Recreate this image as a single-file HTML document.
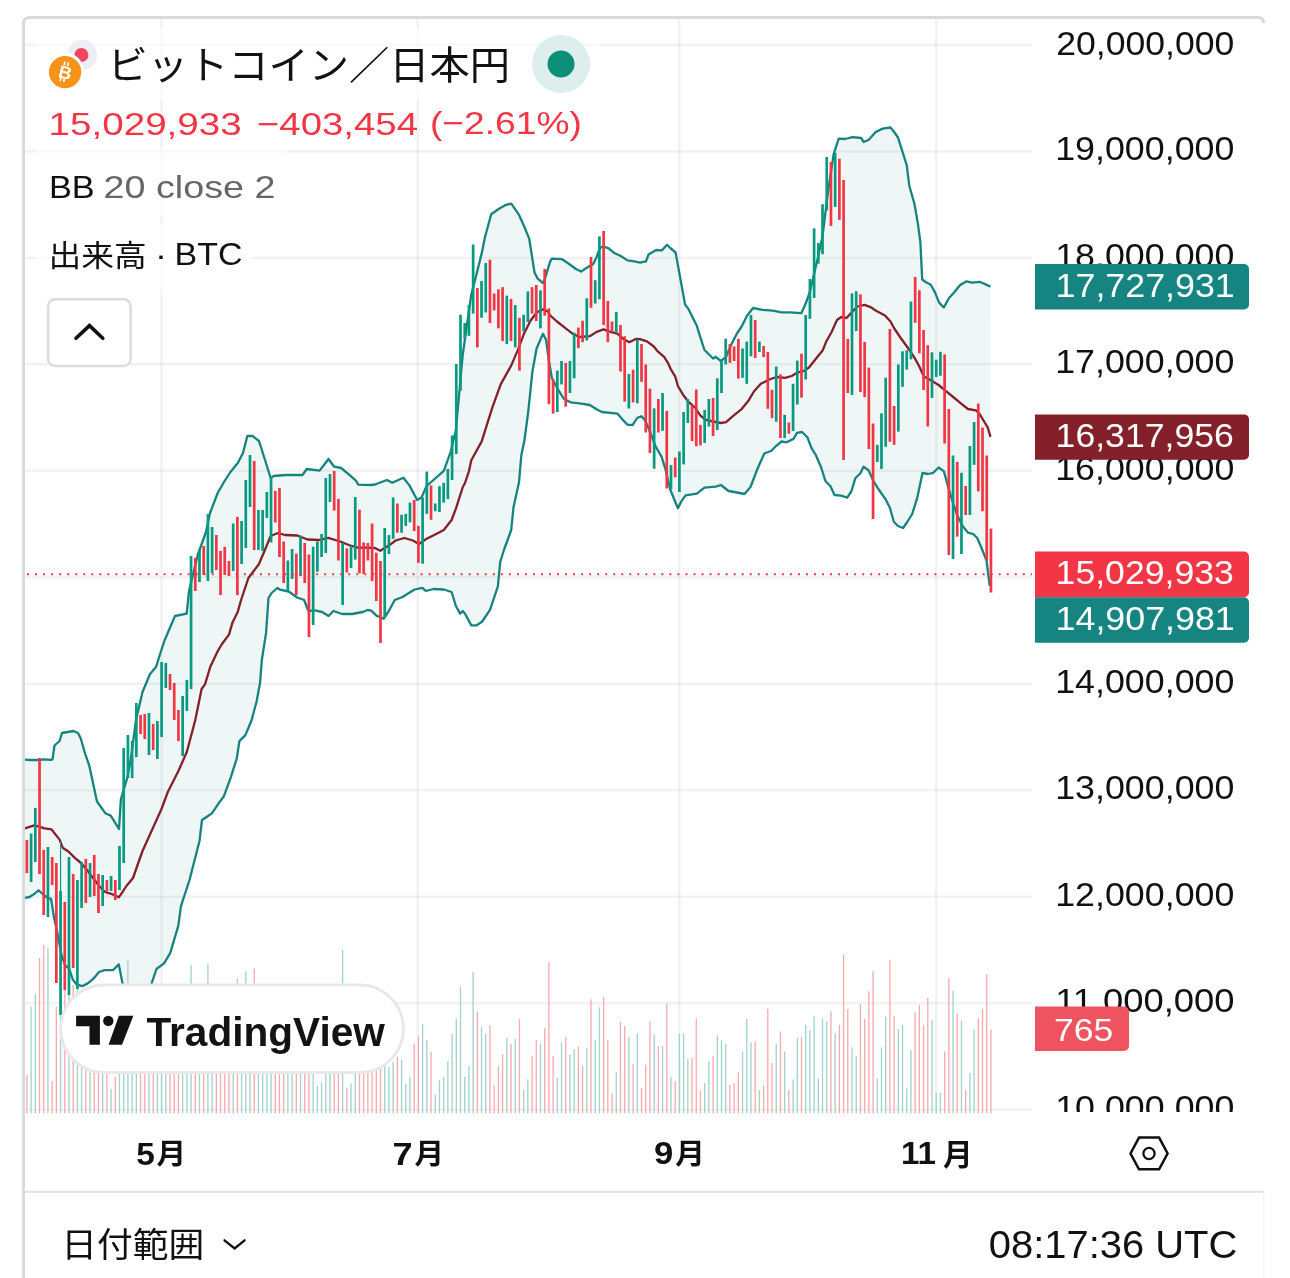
<!DOCTYPE html>
<html><head><meta charset="utf-8"><style>
html,body{margin:0;padding:0;background:#fff;}
body{width:1290px;height:1278px;overflow:hidden;position:relative;font-family:"Liberation Sans", "Noto Sans CJK JP", sans-serif;color:#131722;}
svg{position:absolute;left:0;top:0;will-change:transform;}
</style></head><body>
<svg width="1290" height="1278" viewBox="0 0 1290 1278">
<defs><clipPath id="pane"><rect x="25" y="19" width="1007" height="1094.5"/></clipPath>
<clipPath id="axisclip"><rect x="1032" y="19" width="232" height="1093"/></clipPath></defs>
<!-- container border -->
<path d="M23.5 1278 V24 Q23.5 17.5 30 17.5 H1258 Q1263.5 17.5 1263.5 23" fill="none" stroke="#d9dadb" stroke-width="3"/>
<g stroke="#000" stroke-opacity="0.05" stroke-width="2.6" fill="none">
<line x1="25" y1="44.90" x2="1032" y2="44.90"/>
<line x1="25" y1="151.38" x2="1032" y2="151.38"/>
<line x1="25" y1="257.85" x2="1032" y2="257.85"/>
<line x1="25" y1="364.32" x2="1032" y2="364.32"/>
<line x1="25" y1="470.80" x2="1032" y2="470.80"/>
<line x1="25" y1="577.27" x2="1032" y2="577.27"/>
<line x1="25" y1="683.75" x2="1032" y2="683.75"/>
<line x1="25" y1="790.23" x2="1032" y2="790.23"/>
<line x1="25" y1="896.70" x2="1032" y2="896.70"/>
<line x1="25" y1="1003.17" x2="1032" y2="1003.17"/>
<line x1="25" y1="1109.65" x2="1032" y2="1109.65"/>
<line x1="161.6" y1="19" x2="161.6" y2="1113.5"/>
<line x1="417.75" y1="19" x2="417.75" y2="1113.5"/>
<line x1="679.3" y1="19" x2="679.3" y2="1113.5"/>
<line x1="936.2" y1="19" x2="936.2" y2="1113.5"/>
</g>
<g clip-path="url(#pane)">
<polygon points="22.0,759.5 30.0,760.0 37.6,760.0 44.4,759.3 50.8,759.8 52.5,759.3 54.5,745.5 59.6,741.0 62.0,733.0 73.3,731.0 78.0,733.0 80.8,738.5 84.6,752.0 89.3,765.8 93.1,783.5 97.0,801.5 105.3,813.2 110.7,815.6 119.0,828.9 120.9,799.0 124.4,787.4 127.2,778.0 130.7,760.0 136.0,720.0 142.5,692.0 150.0,674.0 156.0,667.0 160.4,653.0 164.7,640.0 175.0,616.0 186.7,613.6 189.0,591.0 197.7,555.0 206.0,532.0 210.0,513.0 217.7,493.0 224.0,482.0 230.4,472.0 237.8,463.0 243.0,453.0 247.3,436.0 252.6,436.0 259.0,441.0 266.3,464.0 270.6,478.0 273.7,476.0 285.0,475.0 290.3,475.0 302.4,475.0 306.7,469.0 319.6,470.6 328.5,459.0 334.2,466.7 341.1,468.0 348.8,474.4 355.7,480.4 358.3,484.7 371.2,485.0 375.0,484.5 387.0,480.0 392.2,482.8 403.4,477.7 409.4,485.4 417.2,500.0 421.5,497.5 426.6,486.0 433.5,480.0 443.8,470.8 450.7,451.8 455.9,430.0 462.7,355.0 471.1,295.6 481.7,253.4 484.9,237.5 491.2,214.3 498.6,209.0 506.0,204.8 511.3,203.7 518.7,214.3 524.0,226.0 529.2,238.6 534.5,272.4 537.7,278.7 543.0,283.0 545.0,278.5 550.0,261.8 551.9,258.7 562.2,259.2 569.1,264.0 576.0,269.0 581.1,271.6 586.3,268.0 593.2,264.0 596.6,257.0 600.1,247.5 604.4,246.7 608.7,248.4 613.8,252.7 620.7,256.0 627.6,260.4 634.5,261.3 640.0,262.7 646.0,261.3 648.5,254.6 656.2,250.0 661.8,250.4 667.1,244.8 670.3,248.0 675.6,252.5 685.1,304.6 688.2,308.6 696.8,325.8 701.1,339.6 704.5,350.0 708.8,354.2 713.1,358.5 715.7,356.8 720.9,361.0 726.1,356.8 731.2,344.7 736.4,334.4 741.9,326.0 747.0,315.8 753.1,308.0 762.5,309.8 772.9,310.7 781.5,312.4 790.0,312.4 801.3,313.2 805.6,303.8 809.9,291.7 815.5,268.0 822.4,237.0 827.5,195.7 833.6,154.4 838.7,138.6 844.8,139.0 852.5,137.2 861.1,138.0 863.7,142.0 868.8,139.8 875.7,132.0 882.6,128.6 890.4,127.5 893.8,131.5 898.0,137.5 901.5,148.7 906.7,165.0 909.3,185.7 914.4,203.8 917.9,223.6 920.4,242.5 922.2,279.5 925.6,282.0 930.8,284.7 935.0,292.4 939.1,302.6 943.8,307.5 949.0,298.0 954.3,292.2 959.9,285.3 966.5,281.3 971.9,282.6 979.8,281.8 990.5,286.6 989.7,585.8 986.5,560.5 981.2,547.2 977.2,538.0 973.2,534.0 967.9,532.6 962.6,526.0 957.2,515.3 951.9,499.4 947.9,486.0 943.9,471.4 938.6,467.5 933.3,472.8 928.0,474.0 922.5,473.0 917.3,497.6 912.2,514.0 907.2,522.0 903.1,528.0 898.0,526.0 893.9,522.0 889.9,507.8 885.8,499.7 878.7,489.5 873.6,481.4 868.5,470.2 863.5,466.7 860.4,473.3 855.3,478.3 851.3,491.5 847.2,497.6 841.1,495.6 834.5,495.0 830.5,486.2 825.4,481.0 821.1,467.3 815.9,455.2 811.6,448.3 807.3,437.2 802.1,432.0 797.0,432.9 793.5,438.9 786.6,442.3 781.5,441.5 776.3,445.8 771.1,451.0 764.3,453.5 757.4,469.0 750.5,487.0 744.5,494.0 737.0,492.5 728.6,491.0 720.9,485.0 715.7,486.7 704.5,487.6 696.8,493.6 685.6,495.4 681.3,501.4 677.9,508.3 674.4,499.7 670.1,489.3 665.8,470.4 661.5,456.6 655.5,446.3 650.3,432.5 645.2,420.5 641.4,416.2 637.1,418.0 632.8,424.8 627.6,424.8 622.5,419.6 617.3,413.6 601.8,412.0 596.6,409.3 589.8,405.0 579.4,403.3 570.8,402.4 563.9,399.0 557.0,387.8 551.9,378.3 548.4,357.7 546.1,340.0 543.0,333.7 536.6,348.5 532.4,371.7 528.2,412.0 524.5,440.0 521.3,455.6 519.0,482.3 513.5,507.3 511.2,530.0 504.1,549.5 500.2,562.0 497.9,586.3 490.0,609.8 482.2,621.5 476.7,625.4 471.3,625.4 465.0,613.7 462.8,611.0 460.2,613.6 455.9,606.0 451.6,592.0 443.8,589.5 433.5,589.0 425.8,591.0 422.3,587.8 414.6,589.5 402.5,597.0 394.8,600.0 388.8,611.0 383.6,618.8 376.4,615.6 371.2,610.7 367.8,610.0 362.6,612.0 352.3,614.0 342.0,614.0 333.4,611.0 328.5,616.0 322.2,612.0 314.4,610.4 308.4,611.0 304.1,600.0 297.2,597.5 288.6,591.5 280.0,589.7 277.3,588.0 271.6,593.0 268.5,598.0 266.1,632.7 261.8,660.2 260.1,682.6 256.6,701.5 251.5,720.5 245.4,735.1 239.4,741.1 236.8,758.3 230.8,777.3 223.9,796.2 218.8,803.1 211.9,813.4 208.0,816.0 202.0,820.0 199.5,841.0 189.5,880.0 180.9,906.4 178.3,925.8 170.2,953.2 164.0,963.4 156.5,969.0 151.9,982.7 148.0,993.0 143.0,1003.0 137.0,1006.0 131.0,1003.0 126.0,995.0 122.4,982.7 118.8,964.4 113.2,970.0 104.7,970.2 99.0,972.0 93.4,978.7 87.8,983.4 82.2,986.2 76.5,984.3 72.8,979.6 69.0,968.3 65.2,965.5 61.5,955.2 57.7,934.5 54.0,917.6 51.0,898.8 47.4,897.9 42.7,894.0 38.5,890.3 34.2,894.0 29.5,897.0 24.8,897.9 22.0,898.5" fill="#16837f" fill-opacity="0.065"/>
<rect x="26.24" y="1075.0" width="1.3" height="38.5" fill="#f7a9ae"/>
<rect x="30.45" y="1006.7" width="1.3" height="106.8" fill="#9fd3cb"/>
<rect x="34.66" y="993.6" width="1.3" height="119.9" fill="#9fd3cb"/>
<rect x="38.87" y="958.0" width="1.3" height="155.5" fill="#f7a9ae"/>
<rect x="43.08" y="944.7" width="1.3" height="168.8" fill="#f7a9ae"/>
<rect x="47.29" y="947.8" width="1.3" height="165.7" fill="#9fd3cb"/>
<rect x="51.50" y="1081.0" width="1.3" height="32.5" fill="#f7a9ae"/>
<rect x="55.70" y="1006.7" width="1.3" height="106.8" fill="#f7a9ae"/>
<rect x="59.91" y="985.0" width="1.3" height="128.5" fill="#9fd3cb"/>
<rect x="64.12" y="990.0" width="1.3" height="123.5" fill="#f7a9ae"/>
<rect x="68.33" y="980.0" width="1.3" height="133.5" fill="#9fd3cb"/>
<rect x="72.54" y="985.0" width="1.3" height="128.5" fill="#f7a9ae"/>
<rect x="76.75" y="967.0" width="1.3" height="146.5" fill="#9fd3cb"/>
<rect x="80.96" y="1000.0" width="1.3" height="113.5" fill="#9fd3cb"/>
<rect x="85.17" y="1000.0" width="1.3" height="113.5" fill="#f7a9ae"/>
<rect x="89.38" y="1000.0" width="1.3" height="113.5" fill="#9fd3cb"/>
<rect x="93.59" y="1000.0" width="1.3" height="113.5" fill="#f7a9ae"/>
<rect x="97.80" y="1000.0" width="1.3" height="113.5" fill="#f7a9ae"/>
<rect x="102.01" y="1000.0" width="1.3" height="113.5" fill="#9fd3cb"/>
<rect x="106.22" y="1000.0" width="1.3" height="113.5" fill="#f7a9ae"/>
<rect x="110.43" y="1089.3" width="1.3" height="24.2" fill="#9fd3cb"/>
<rect x="114.64" y="1076.5" width="1.3" height="37.0" fill="#f7a9ae"/>
<rect x="118.85" y="1000.0" width="1.3" height="113.5" fill="#9fd3cb"/>
<rect x="123.06" y="1000.0" width="1.3" height="113.5" fill="#9fd3cb"/>
<rect x="127.27" y="960.2" width="1.3" height="153.3" fill="#9fd3cb"/>
<rect x="131.48" y="1000.0" width="1.3" height="113.5" fill="#9fd3cb"/>
<rect x="135.69" y="1000.0" width="1.3" height="113.5" fill="#9fd3cb"/>
<rect x="139.90" y="1000.0" width="1.3" height="113.5" fill="#f7a9ae"/>
<rect x="144.11" y="1000.0" width="1.3" height="113.5" fill="#f7a9ae"/>
<rect x="148.32" y="1000.0" width="1.3" height="113.5" fill="#9fd3cb"/>
<rect x="152.53" y="1000.0" width="1.3" height="113.5" fill="#f7a9ae"/>
<rect x="156.74" y="1000.0" width="1.3" height="113.5" fill="#9fd3cb"/>
<rect x="160.95" y="1000.0" width="1.3" height="113.5" fill="#9fd3cb"/>
<rect x="165.16" y="1000.0" width="1.3" height="113.5" fill="#9fd3cb"/>
<rect x="169.37" y="1000.0" width="1.3" height="113.5" fill="#f7a9ae"/>
<rect x="173.58" y="1000.0" width="1.3" height="113.5" fill="#f7a9ae"/>
<rect x="177.79" y="1000.0" width="1.3" height="113.5" fill="#f7a9ae"/>
<rect x="182.00" y="1000.0" width="1.3" height="113.5" fill="#9fd3cb"/>
<rect x="186.21" y="1000.0" width="1.3" height="113.5" fill="#9fd3cb"/>
<rect x="190.42" y="964.9" width="1.3" height="148.6" fill="#9fd3cb"/>
<rect x="194.63" y="1000.0" width="1.3" height="113.5" fill="#f7a9ae"/>
<rect x="198.84" y="1000.0" width="1.3" height="113.5" fill="#9fd3cb"/>
<rect x="203.05" y="1000.0" width="1.3" height="113.5" fill="#f7a9ae"/>
<rect x="207.26" y="963.7" width="1.3" height="149.8" fill="#9fd3cb"/>
<rect x="211.47" y="1000.0" width="1.3" height="113.5" fill="#9fd3cb"/>
<rect x="215.68" y="1000.0" width="1.3" height="113.5" fill="#f7a9ae"/>
<rect x="219.89" y="1000.0" width="1.3" height="113.5" fill="#f7a9ae"/>
<rect x="224.10" y="1000.0" width="1.3" height="113.5" fill="#f7a9ae"/>
<rect x="228.31" y="1000.0" width="1.3" height="113.5" fill="#f7a9ae"/>
<rect x="232.52" y="1000.0" width="1.3" height="113.5" fill="#9fd3cb"/>
<rect x="236.73" y="978.4" width="1.3" height="135.1" fill="#f7a9ae"/>
<rect x="240.94" y="1000.0" width="1.3" height="113.5" fill="#9fd3cb"/>
<rect x="245.15" y="971.2" width="1.3" height="142.3" fill="#9fd3cb"/>
<rect x="249.36" y="1000.0" width="1.3" height="113.5" fill="#9fd3cb"/>
<rect x="253.57" y="968.4" width="1.3" height="145.1" fill="#f7a9ae"/>
<rect x="257.78" y="1000.0" width="1.3" height="113.5" fill="#9fd3cb"/>
<rect x="261.99" y="1000.0" width="1.3" height="113.5" fill="#9fd3cb"/>
<rect x="266.20" y="1000.0" width="1.3" height="113.5" fill="#9fd3cb"/>
<rect x="270.40" y="1000.0" width="1.3" height="113.5" fill="#9fd3cb"/>
<rect x="274.61" y="1000.0" width="1.3" height="113.5" fill="#f7a9ae"/>
<rect x="278.82" y="1000.0" width="1.3" height="113.5" fill="#f7a9ae"/>
<rect x="283.03" y="1000.0" width="1.3" height="113.5" fill="#f7a9ae"/>
<rect x="287.24" y="1000.0" width="1.3" height="113.5" fill="#9fd3cb"/>
<rect x="291.45" y="1000.0" width="1.3" height="113.5" fill="#9fd3cb"/>
<rect x="295.66" y="1000.0" width="1.3" height="113.5" fill="#f7a9ae"/>
<rect x="299.87" y="1000.0" width="1.3" height="113.5" fill="#9fd3cb"/>
<rect x="304.08" y="1000.0" width="1.3" height="113.5" fill="#f7a9ae"/>
<rect x="308.29" y="1000.0" width="1.3" height="113.5" fill="#f7a9ae"/>
<rect x="312.50" y="1000.0" width="1.3" height="113.5" fill="#9fd3cb"/>
<rect x="316.71" y="1085.8" width="1.3" height="27.7" fill="#9fd3cb"/>
<rect x="320.92" y="1082.3" width="1.3" height="31.2" fill="#9fd3cb"/>
<rect x="325.13" y="1000.0" width="1.3" height="113.5" fill="#9fd3cb"/>
<rect x="329.34" y="1000.0" width="1.3" height="113.5" fill="#9fd3cb"/>
<rect x="333.55" y="1000.0" width="1.3" height="113.5" fill="#f7a9ae"/>
<rect x="337.76" y="1000.0" width="1.3" height="113.5" fill="#f7a9ae"/>
<rect x="341.97" y="949.8" width="1.3" height="163.7" fill="#9fd3cb"/>
<rect x="346.18" y="1087.7" width="1.3" height="25.8" fill="#f7a9ae"/>
<rect x="350.39" y="1083.5" width="1.3" height="30.0" fill="#9fd3cb"/>
<rect x="354.60" y="1000.0" width="1.3" height="113.5" fill="#9fd3cb"/>
<rect x="358.81" y="1000.0" width="1.3" height="113.5" fill="#f7a9ae"/>
<rect x="363.02" y="1000.0" width="1.3" height="113.5" fill="#f7a9ae"/>
<rect x="367.23" y="1000.0" width="1.3" height="113.5" fill="#f7a9ae"/>
<rect x="371.44" y="1000.0" width="1.3" height="113.5" fill="#f7a9ae"/>
<rect x="375.65" y="1000.0" width="1.3" height="113.5" fill="#f7a9ae"/>
<rect x="379.86" y="1000.0" width="1.3" height="113.5" fill="#f7a9ae"/>
<rect x="384.07" y="1000.0" width="1.3" height="113.5" fill="#9fd3cb"/>
<rect x="388.28" y="1067.0" width="1.3" height="46.5" fill="#9fd3cb"/>
<rect x="392.49" y="1062.0" width="1.3" height="51.5" fill="#9fd3cb"/>
<rect x="396.70" y="1056.7" width="1.3" height="56.8" fill="#f7a9ae"/>
<rect x="400.91" y="1060.0" width="1.3" height="53.5" fill="#9fd3cb"/>
<rect x="405.12" y="1083.5" width="1.3" height="30.0" fill="#9fd3cb"/>
<rect x="409.33" y="1076.5" width="1.3" height="37.0" fill="#9fd3cb"/>
<rect x="413.54" y="1043.5" width="1.3" height="70.0" fill="#f7a9ae"/>
<rect x="417.75" y="1035.8" width="1.3" height="77.7" fill="#f7a9ae"/>
<rect x="421.96" y="1023.7" width="1.3" height="89.8" fill="#9fd3cb"/>
<rect x="426.17" y="1040.0" width="1.3" height="73.5" fill="#9fd3cb"/>
<rect x="430.38" y="1052.0" width="1.3" height="61.5" fill="#f7a9ae"/>
<rect x="434.59" y="1094.7" width="1.3" height="18.8" fill="#9fd3cb"/>
<rect x="438.80" y="1080.0" width="1.3" height="33.5" fill="#9fd3cb"/>
<rect x="443.01" y="1077.0" width="1.3" height="36.5" fill="#9fd3cb"/>
<rect x="447.22" y="1061.4" width="1.3" height="52.1" fill="#9fd3cb"/>
<rect x="451.43" y="1033.5" width="1.3" height="80.0" fill="#9fd3cb"/>
<rect x="455.64" y="1018.4" width="1.3" height="95.1" fill="#9fd3cb"/>
<rect x="459.85" y="987.0" width="1.3" height="126.5" fill="#9fd3cb"/>
<rect x="464.06" y="1076.5" width="1.3" height="37.0" fill="#9fd3cb"/>
<rect x="468.27" y="1066.0" width="1.3" height="47.5" fill="#9fd3cb"/>
<rect x="472.48" y="971.9" width="1.3" height="141.6" fill="#9fd3cb"/>
<rect x="476.69" y="1012.0" width="1.3" height="101.5" fill="#f7a9ae"/>
<rect x="480.89" y="1027.2" width="1.3" height="86.3" fill="#9fd3cb"/>
<rect x="485.10" y="1033.5" width="1.3" height="80.0" fill="#9fd3cb"/>
<rect x="489.31" y="1025.3" width="1.3" height="88.2" fill="#f7a9ae"/>
<rect x="493.52" y="1085.3" width="1.3" height="28.2" fill="#f7a9ae"/>
<rect x="497.73" y="1066.7" width="1.3" height="46.8" fill="#f7a9ae"/>
<rect x="501.94" y="1054.4" width="1.3" height="59.1" fill="#f7a9ae"/>
<rect x="506.15" y="1038.0" width="1.3" height="75.5" fill="#9fd3cb"/>
<rect x="510.36" y="1044.0" width="1.3" height="69.5" fill="#f7a9ae"/>
<rect x="514.57" y="1038.8" width="1.3" height="74.7" fill="#9fd3cb"/>
<rect x="518.78" y="1019.0" width="1.3" height="94.5" fill="#f7a9ae"/>
<rect x="522.99" y="1090.0" width="1.3" height="23.5" fill="#9fd3cb"/>
<rect x="527.20" y="1079.3" width="1.3" height="34.2" fill="#9fd3cb"/>
<rect x="531.41" y="1056.0" width="1.3" height="57.5" fill="#f7a9ae"/>
<rect x="535.62" y="1040.0" width="1.3" height="73.5" fill="#f7a9ae"/>
<rect x="539.83" y="1043.5" width="1.3" height="70.0" fill="#9fd3cb"/>
<rect x="544.04" y="1028.0" width="1.3" height="85.5" fill="#f7a9ae"/>
<rect x="548.25" y="961.9" width="1.3" height="151.6" fill="#f7a9ae"/>
<rect x="552.46" y="1056.0" width="1.3" height="57.5" fill="#f7a9ae"/>
<rect x="556.67" y="1078.0" width="1.3" height="35.5" fill="#9fd3cb"/>
<rect x="560.88" y="1042.3" width="1.3" height="71.2" fill="#9fd3cb"/>
<rect x="565.09" y="1037.0" width="1.3" height="76.5" fill="#f7a9ae"/>
<rect x="569.30" y="1054.4" width="1.3" height="59.1" fill="#9fd3cb"/>
<rect x="573.51" y="1049.0" width="1.3" height="64.5" fill="#9fd3cb"/>
<rect x="577.72" y="1047.0" width="1.3" height="66.5" fill="#f7a9ae"/>
<rect x="581.93" y="1066.0" width="1.3" height="47.5" fill="#f7a9ae"/>
<rect x="586.14" y="1048.0" width="1.3" height="65.5" fill="#9fd3cb"/>
<rect x="590.35" y="999.3" width="1.3" height="114.2" fill="#f7a9ae"/>
<rect x="594.56" y="1040.0" width="1.3" height="73.5" fill="#9fd3cb"/>
<rect x="598.77" y="1007.4" width="1.3" height="106.1" fill="#9fd3cb"/>
<rect x="602.98" y="997.0" width="1.3" height="116.5" fill="#f7a9ae"/>
<rect x="607.19" y="1040.0" width="1.3" height="73.5" fill="#f7a9ae"/>
<rect x="611.40" y="1093.5" width="1.3" height="20.0" fill="#f7a9ae"/>
<rect x="615.61" y="1072.3" width="1.3" height="41.2" fill="#9fd3cb"/>
<rect x="619.82" y="1021.9" width="1.3" height="91.6" fill="#f7a9ae"/>
<rect x="624.03" y="1026.0" width="1.3" height="87.5" fill="#f7a9ae"/>
<rect x="628.24" y="1037.0" width="1.3" height="76.5" fill="#9fd3cb"/>
<rect x="632.45" y="1064.2" width="1.3" height="49.3" fill="#f7a9ae"/>
<rect x="636.66" y="1033.5" width="1.3" height="80.0" fill="#9fd3cb"/>
<rect x="640.87" y="1088.0" width="1.3" height="25.5" fill="#f7a9ae"/>
<rect x="645.08" y="1064.9" width="1.3" height="48.6" fill="#f7a9ae"/>
<rect x="649.29" y="1021.9" width="1.3" height="91.6" fill="#f7a9ae"/>
<rect x="653.50" y="1034.2" width="1.3" height="79.3" fill="#9fd3cb"/>
<rect x="657.71" y="1046.3" width="1.3" height="67.2" fill="#f7a9ae"/>
<rect x="661.92" y="1045.8" width="1.3" height="67.7" fill="#9fd3cb"/>
<rect x="666.13" y="1003.3" width="1.3" height="110.2" fill="#f7a9ae"/>
<rect x="670.34" y="1076.5" width="1.3" height="37.0" fill="#9fd3cb"/>
<rect x="674.55" y="1081.2" width="1.3" height="32.3" fill="#f7a9ae"/>
<rect x="678.76" y="1033.5" width="1.3" height="80.0" fill="#9fd3cb"/>
<rect x="682.97" y="1033.5" width="1.3" height="80.0" fill="#9fd3cb"/>
<rect x="687.18" y="1059.0" width="1.3" height="54.5" fill="#9fd3cb"/>
<rect x="691.38" y="1058.0" width="1.3" height="55.5" fill="#f7a9ae"/>
<rect x="695.59" y="1018.4" width="1.3" height="95.1" fill="#f7a9ae"/>
<rect x="699.80" y="1090.5" width="1.3" height="23.0" fill="#f7a9ae"/>
<rect x="704.01" y="1083.0" width="1.3" height="30.5" fill="#9fd3cb"/>
<rect x="708.22" y="1061.4" width="1.3" height="52.1" fill="#9fd3cb"/>
<rect x="712.43" y="1056.3" width="1.3" height="57.2" fill="#f7a9ae"/>
<rect x="716.64" y="1035.3" width="1.3" height="78.2" fill="#9fd3cb"/>
<rect x="720.85" y="1040.0" width="1.3" height="73.5" fill="#9fd3cb"/>
<rect x="725.06" y="1043.5" width="1.3" height="70.0" fill="#9fd3cb"/>
<rect x="729.27" y="1084.7" width="1.3" height="28.8" fill="#f7a9ae"/>
<rect x="733.48" y="1083.0" width="1.3" height="30.5" fill="#f7a9ae"/>
<rect x="737.69" y="1072.3" width="1.3" height="41.2" fill="#f7a9ae"/>
<rect x="741.90" y="1051.4" width="1.3" height="62.1" fill="#9fd3cb"/>
<rect x="746.11" y="1019.0" width="1.3" height="94.5" fill="#9fd3cb"/>
<rect x="750.32" y="1042.3" width="1.3" height="71.2" fill="#9fd3cb"/>
<rect x="754.53" y="1041.6" width="1.3" height="71.9" fill="#f7a9ae"/>
<rect x="758.74" y="1090.0" width="1.3" height="23.5" fill="#9fd3cb"/>
<rect x="762.95" y="1085.3" width="1.3" height="28.2" fill="#f7a9ae"/>
<rect x="767.16" y="1009.0" width="1.3" height="104.5" fill="#f7a9ae"/>
<rect x="771.37" y="1063.0" width="1.3" height="50.5" fill="#f7a9ae"/>
<rect x="775.58" y="1044.0" width="1.3" height="69.5" fill="#9fd3cb"/>
<rect x="779.79" y="1031.6" width="1.3" height="81.9" fill="#f7a9ae"/>
<rect x="784.00" y="1051.4" width="1.3" height="62.1" fill="#9fd3cb"/>
<rect x="788.21" y="1090.0" width="1.3" height="23.5" fill="#f7a9ae"/>
<rect x="792.42" y="1079.3" width="1.3" height="34.2" fill="#9fd3cb"/>
<rect x="796.63" y="1038.0" width="1.3" height="75.5" fill="#9fd3cb"/>
<rect x="800.84" y="1037.0" width="1.3" height="76.5" fill="#f7a9ae"/>
<rect x="805.05" y="1024.7" width="1.3" height="88.8" fill="#9fd3cb"/>
<rect x="809.26" y="1030.0" width="1.3" height="83.5" fill="#9fd3cb"/>
<rect x="813.47" y="1015.6" width="1.3" height="97.9" fill="#9fd3cb"/>
<rect x="817.68" y="1078.4" width="1.3" height="35.1" fill="#9fd3cb"/>
<rect x="821.89" y="1018.4" width="1.3" height="95.1" fill="#9fd3cb"/>
<rect x="826.10" y="1021.2" width="1.3" height="92.3" fill="#9fd3cb"/>
<rect x="830.31" y="1011.4" width="1.3" height="102.1" fill="#f7a9ae"/>
<rect x="834.52" y="1033.5" width="1.3" height="80.0" fill="#9fd3cb"/>
<rect x="838.73" y="1024.7" width="1.3" height="88.8" fill="#f7a9ae"/>
<rect x="842.94" y="954.4" width="1.3" height="159.1" fill="#f7a9ae"/>
<rect x="847.15" y="1009.5" width="1.3" height="104.0" fill="#f7a9ae"/>
<rect x="851.36" y="1047.4" width="1.3" height="66.1" fill="#9fd3cb"/>
<rect x="855.57" y="1056.3" width="1.3" height="57.2" fill="#9fd3cb"/>
<rect x="859.78" y="1004.0" width="1.3" height="109.5" fill="#f7a9ae"/>
<rect x="863.99" y="1019.0" width="1.3" height="94.5" fill="#f7a9ae"/>
<rect x="868.20" y="991.2" width="1.3" height="122.3" fill="#f7a9ae"/>
<rect x="872.41" y="971.2" width="1.3" height="142.3" fill="#f7a9ae"/>
<rect x="876.62" y="1078.4" width="1.3" height="35.1" fill="#9fd3cb"/>
<rect x="880.83" y="1047.4" width="1.3" height="66.1" fill="#9fd3cb"/>
<rect x="885.04" y="1016.7" width="1.3" height="96.8" fill="#9fd3cb"/>
<rect x="889.25" y="959.8" width="1.3" height="153.7" fill="#f7a9ae"/>
<rect x="893.46" y="1015.6" width="1.3" height="97.9" fill="#f7a9ae"/>
<rect x="897.67" y="1029.3" width="1.3" height="84.2" fill="#9fd3cb"/>
<rect x="901.87" y="1024.7" width="1.3" height="88.8" fill="#9fd3cb"/>
<rect x="906.08" y="1088.6" width="1.3" height="24.9" fill="#9fd3cb"/>
<rect x="910.29" y="1049.8" width="1.3" height="63.7" fill="#9fd3cb"/>
<rect x="914.50" y="1012.1" width="1.3" height="101.4" fill="#f7a9ae"/>
<rect x="918.71" y="1004.9" width="1.3" height="108.6" fill="#f7a9ae"/>
<rect x="922.92" y="1025.3" width="1.3" height="88.2" fill="#f7a9ae"/>
<rect x="927.13" y="997.9" width="1.3" height="115.6" fill="#f7a9ae"/>
<rect x="931.34" y="1020.2" width="1.3" height="93.3" fill="#9fd3cb"/>
<rect x="935.55" y="1092.8" width="1.3" height="20.7" fill="#9fd3cb"/>
<rect x="939.76" y="1092.8" width="1.3" height="20.7" fill="#9fd3cb"/>
<rect x="943.97" y="1051.4" width="1.3" height="62.1" fill="#f7a9ae"/>
<rect x="948.18" y="978.1" width="1.3" height="135.4" fill="#f7a9ae"/>
<rect x="952.39" y="990.9" width="1.3" height="122.6" fill="#9fd3cb"/>
<rect x="956.60" y="1013.7" width="1.3" height="99.8" fill="#f7a9ae"/>
<rect x="960.81" y="1020.2" width="1.3" height="93.3" fill="#9fd3cb"/>
<rect x="965.02" y="1090.0" width="1.3" height="23.5" fill="#f7a9ae"/>
<rect x="969.23" y="1073.0" width="1.3" height="40.5" fill="#9fd3cb"/>
<rect x="973.44" y="1029.3" width="1.3" height="84.2" fill="#9fd3cb"/>
<rect x="977.65" y="1018.4" width="1.3" height="95.1" fill="#f7a9ae"/>
<rect x="981.86" y="1009.0" width="1.3" height="104.5" fill="#f7a9ae"/>
<rect x="986.07" y="974.2" width="1.3" height="139.3" fill="#f7a9ae"/>
<rect x="990.28" y="1029.3" width="1.3" height="84.2" fill="#f7a9ae"/>
<polyline points="22.0,759.5 30.0,760.0 37.6,760.0 44.4,759.3 50.8,759.8 52.5,759.3 54.5,745.5 59.6,741.0 62.0,733.0 73.3,731.0 78.0,733.0 80.8,738.5 84.6,752.0 89.3,765.8 93.1,783.5 97.0,801.5 105.3,813.2 110.7,815.6 119.0,828.9 120.9,799.0 124.4,787.4 127.2,778.0 130.7,760.0 136.0,720.0 142.5,692.0 150.0,674.0 156.0,667.0 160.4,653.0 164.7,640.0 175.0,616.0 186.7,613.6 189.0,591.0 197.7,555.0 206.0,532.0 210.0,513.0 217.7,493.0 224.0,482.0 230.4,472.0 237.8,463.0 243.0,453.0 247.3,436.0 252.6,436.0 259.0,441.0 266.3,464.0 270.6,478.0 273.7,476.0 285.0,475.0 290.3,475.0 302.4,475.0 306.7,469.0 319.6,470.6 328.5,459.0 334.2,466.7 341.1,468.0 348.8,474.4 355.7,480.4 358.3,484.7 371.2,485.0 375.0,484.5 387.0,480.0 392.2,482.8 403.4,477.7 409.4,485.4 417.2,500.0 421.5,497.5 426.6,486.0 433.5,480.0 443.8,470.8 450.7,451.8 455.9,430.0 462.7,355.0 471.1,295.6 481.7,253.4 484.9,237.5 491.2,214.3 498.6,209.0 506.0,204.8 511.3,203.7 518.7,214.3 524.0,226.0 529.2,238.6 534.5,272.4 537.7,278.7 543.0,283.0 545.0,278.5 550.0,261.8 551.9,258.7 562.2,259.2 569.1,264.0 576.0,269.0 581.1,271.6 586.3,268.0 593.2,264.0 596.6,257.0 600.1,247.5 604.4,246.7 608.7,248.4 613.8,252.7 620.7,256.0 627.6,260.4 634.5,261.3 640.0,262.7 646.0,261.3 648.5,254.6 656.2,250.0 661.8,250.4 667.1,244.8 670.3,248.0 675.6,252.5 685.1,304.6 688.2,308.6 696.8,325.8 701.1,339.6 704.5,350.0 708.8,354.2 713.1,358.5 715.7,356.8 720.9,361.0 726.1,356.8 731.2,344.7 736.4,334.4 741.9,326.0 747.0,315.8 753.1,308.0 762.5,309.8 772.9,310.7 781.5,312.4 790.0,312.4 801.3,313.2 805.6,303.8 809.9,291.7 815.5,268.0 822.4,237.0 827.5,195.7 833.6,154.4 838.7,138.6 844.8,139.0 852.5,137.2 861.1,138.0 863.7,142.0 868.8,139.8 875.7,132.0 882.6,128.6 890.4,127.5 893.8,131.5 898.0,137.5 901.5,148.7 906.7,165.0 909.3,185.7 914.4,203.8 917.9,223.6 920.4,242.5 922.2,279.5 925.6,282.0 930.8,284.7 935.0,292.4 939.1,302.6 943.8,307.5 949.0,298.0 954.3,292.2 959.9,285.3 966.5,281.3 971.9,282.6 979.8,281.8 990.5,286.6" fill="none" stroke="#16837f" stroke-width="2.3" stroke-linejoin="round"/>
<polyline points="22.0,898.5 24.8,897.9 29.5,897.0 34.2,894.0 38.5,890.3 42.7,894.0 47.4,897.9 51.0,898.8 54.0,917.6 57.7,934.5 61.5,955.2 65.2,965.5 69.0,968.3 72.8,979.6 76.5,984.3 82.2,986.2 87.8,983.4 93.4,978.7 99.0,972.0 104.7,970.2 113.2,970.0 118.8,964.4 122.4,982.7 126.0,995.0 131.0,1003.0 137.0,1006.0 143.0,1003.0 148.0,993.0 151.9,982.7 156.5,969.0 164.0,963.4 170.2,953.2 178.3,925.8 180.9,906.4 189.5,880.0 199.5,841.0 202.0,820.0 208.0,816.0 211.9,813.4 218.8,803.1 223.9,796.2 230.8,777.3 236.8,758.3 239.4,741.1 245.4,735.1 251.5,720.5 256.6,701.5 260.1,682.6 261.8,660.2 266.1,632.7 268.5,598.0 271.6,593.0 277.3,588.0 280.0,589.7 288.6,591.5 297.2,597.5 304.1,600.0 308.4,611.0 314.4,610.4 322.2,612.0 328.5,616.0 333.4,611.0 342.0,614.0 352.3,614.0 362.6,612.0 367.8,610.0 371.2,610.7 376.4,615.6 383.6,618.8 388.8,611.0 394.8,600.0 402.5,597.0 414.6,589.5 422.3,587.8 425.8,591.0 433.5,589.0 443.8,589.5 451.6,592.0 455.9,606.0 460.2,613.6 462.8,611.0 465.0,613.7 471.3,625.4 476.7,625.4 482.2,621.5 490.0,609.8 497.9,586.3 500.2,562.0 504.1,549.5 511.2,530.0 513.5,507.3 519.0,482.3 521.3,455.6 524.5,440.0 528.2,412.0 532.4,371.7 536.6,348.5 543.0,333.7 546.1,340.0 548.4,357.7 551.9,378.3 557.0,387.8 563.9,399.0 570.8,402.4 579.4,403.3 589.8,405.0 596.6,409.3 601.8,412.0 617.3,413.6 622.5,419.6 627.6,424.8 632.8,424.8 637.1,418.0 641.4,416.2 645.2,420.5 650.3,432.5 655.5,446.3 661.5,456.6 665.8,470.4 670.1,489.3 674.4,499.7 677.9,508.3 681.3,501.4 685.6,495.4 696.8,493.6 704.5,487.6 715.7,486.7 720.9,485.0 728.6,491.0 737.0,492.5 744.5,494.0 750.5,487.0 757.4,469.0 764.3,453.5 771.1,451.0 776.3,445.8 781.5,441.5 786.6,442.3 793.5,438.9 797.0,432.9 802.1,432.0 807.3,437.2 811.6,448.3 815.9,455.2 821.1,467.3 825.4,481.0 830.5,486.2 834.5,495.0 841.1,495.6 847.2,497.6 851.3,491.5 855.3,478.3 860.4,473.3 863.5,466.7 868.5,470.2 873.6,481.4 878.7,489.5 885.8,499.7 889.9,507.8 893.9,522.0 898.0,526.0 903.1,528.0 907.2,522.0 912.2,514.0 917.3,497.6 922.5,473.0 928.0,474.0 933.3,472.8 938.6,467.5 943.9,471.4 947.9,486.0 951.9,499.4 957.2,515.3 962.6,526.0 967.9,532.6 973.2,534.0 977.2,538.0 981.2,547.2 986.5,560.5 989.7,585.8" fill="none" stroke="#16837f" stroke-width="2.3" stroke-linejoin="round"/>
<polyline points="22.0,829.4 28.0,827.4 34.2,825.4 38.3,826.4 44.4,828.4 51.5,829.4 55.5,834.5 59.6,839.6 62.7,847.7 68.7,851.8 74.8,857.9 81.0,863.0 87.0,870.0 93.0,878.0 99.2,886.0 105.0,892.0 112.2,894.2 118.8,897.3 122.4,892.2 126.4,886.0 133.0,878.0 142.5,851.0 152.0,830.0 161.5,809.0 167.8,792.0 178.4,771.0 186.8,752.0 195.3,720.0 201.6,689.0 205.0,684.3 210.2,667.1 217.9,650.8 222.0,644.0 229.1,634.4 232.5,622.4 237.7,612.0 241.1,600.0 248.4,578.0 259.0,564.0 265.3,549.0 270.6,536.0 278.0,533.0 285.0,535.0 297.2,535.5 307.5,539.5 319.6,540.0 328.2,537.8 340.2,541.5 348.8,545.0 357.5,547.6 366.0,547.6 375.0,548.0 380.2,550.8 388.8,545.6 395.7,540.5 404.3,538.0 412.9,540.5 418.9,544.0 426.6,538.8 435.2,534.5 443.8,530.0 451.6,520.0 455.9,508.6 462.8,487.0 465.0,483.0 468.9,471.3 471.3,460.3 481.7,441.4 492.3,407.6 500.7,384.4 511.3,365.4 517.6,350.6 524.0,333.7 530.3,321.0 536.6,312.5 543.0,309.4 548.0,311.5 550.2,315.5 557.0,321.5 565.7,328.4 572.5,333.6 579.4,337.0 589.8,336.2 596.6,331.9 603.5,329.3 610.4,331.9 617.3,333.6 624.2,339.6 629.3,342.2 636.2,338.8 640.0,339.2 646.9,341.3 653.8,346.5 657.2,350.8 664.1,356.8 668.4,363.7 671.0,369.7 675.3,376.6 677.9,386.0 683.0,394.7 688.2,401.5 695.1,407.6 700.2,415.3 705.4,419.6 712.3,421.3 720.9,423.0 726.1,422.2 732.9,416.2 741.9,408.8 748.8,400.2 753.9,391.5 760.8,383.8 769.4,379.5 776.3,377.0 784.9,377.8 791.8,376.0 797.0,372.6 803.8,371.0 809.0,367.5 815.9,358.8 822.8,350.2 826.2,341.6 831.6,332.0 837.0,320.0 841.3,317.0 846.5,318.0 852.0,312.0 857.5,306.5 864.5,304.8 870.0,306.8 876.5,311.0 885.0,315.5 890.5,321.5 894.0,328.0 900.0,337.0 908.2,348.3 914.3,357.4 919.3,366.5 923.8,376.5 930.0,379.7 938.6,385.0 946.6,391.6 953.2,397.0 961.2,403.6 967.9,409.0 975.9,410.3 979.8,414.3 983.8,421.0 987.8,427.6 990.5,436.9" fill="none" stroke="#83202a" stroke-width="2.3" stroke-linejoin="round"/>
<rect x="25.54" y="840.0" width="2.7" height="33.0" fill="#F23645"/>
<rect x="29.75" y="833.5" width="2.7" height="48.5" fill="#089981"/>
<rect x="33.96" y="808.0" width="2.7" height="54.0" fill="#089981"/>
<rect x="38.17" y="758.0" width="2.7" height="116.0" fill="#F23645"/>
<rect x="42.38" y="850.0" width="2.7" height="65.0" fill="#F23645"/>
<rect x="46.59" y="847.0" width="2.7" height="70.0" fill="#089981"/>
<rect x="50.80" y="857.0" width="2.7" height="28.0" fill="#F23645"/>
<rect x="55.00" y="863.0" width="2.7" height="120.0" fill="#F23645"/>
<rect x="59.96" y="842.0" width="1.2" height="173.0" fill="#089981"/>
<rect x="59.21" y="891.0" width="2.7" height="124.0" fill="#089981"/>
<rect x="63.42" y="902.0" width="2.7" height="88.0" fill="#F23645"/>
<rect x="67.63" y="857.0" width="2.7" height="138.0" fill="#089981"/>
<rect x="71.84" y="874.0" width="2.7" height="94.0" fill="#F23645"/>
<rect x="76.05" y="880.0" width="2.7" height="109.0" fill="#089981"/>
<rect x="80.26" y="862.0" width="2.7" height="46.0" fill="#089981"/>
<rect x="84.47" y="859.0" width="2.7" height="44.0" fill="#F23645"/>
<rect x="88.68" y="863.0" width="2.7" height="34.0" fill="#089981"/>
<rect x="92.89" y="855.0" width="2.7" height="41.0" fill="#F23645"/>
<rect x="97.10" y="874.0" width="2.7" height="39.0" fill="#F23645"/>
<rect x="101.31" y="875.0" width="2.7" height="31.0" fill="#089981"/>
<rect x="105.52" y="880.0" width="2.7" height="12.0" fill="#F23645"/>
<rect x="109.73" y="876.0" width="2.7" height="15.0" fill="#089981"/>
<rect x="113.94" y="880.0" width="2.7" height="20.0" fill="#F23645"/>
<rect x="118.15" y="846.0" width="2.7" height="44.0" fill="#089981"/>
<rect x="122.36" y="748.0" width="2.7" height="115.0" fill="#089981"/>
<rect x="126.57" y="735.0" width="2.7" height="43.0" fill="#089981"/>
<rect x="130.78" y="741.0" width="2.7" height="37.0" fill="#089981"/>
<rect x="134.99" y="703.0" width="2.7" height="54.0" fill="#089981"/>
<rect x="139.20" y="715.0" width="2.7" height="19.0" fill="#F23645"/>
<rect x="143.41" y="714.0" width="2.7" height="25.0" fill="#F23645"/>
<rect x="147.62" y="713.0" width="2.7" height="42.0" fill="#089981"/>
<rect x="151.83" y="724.0" width="2.7" height="26.0" fill="#F23645"/>
<rect x="156.04" y="721.0" width="2.7" height="38.0" fill="#089981"/>
<rect x="160.25" y="662.0" width="2.7" height="75.0" fill="#089981"/>
<rect x="164.46" y="663.0" width="2.7" height="25.0" fill="#089981"/>
<rect x="168.67" y="674.0" width="2.7" height="16.0" fill="#F23645"/>
<rect x="172.88" y="683.0" width="2.7" height="37.0" fill="#F23645"/>
<rect x="177.09" y="710.0" width="2.7" height="31.0" fill="#F23645"/>
<rect x="181.30" y="696.0" width="2.7" height="60.0" fill="#089981"/>
<rect x="185.51" y="680.0" width="2.7" height="31.0" fill="#089981"/>
<rect x="189.72" y="556.0" width="2.7" height="133.0" fill="#089981"/>
<rect x="193.93" y="558.0" width="2.7" height="33.0" fill="#F23645"/>
<rect x="198.14" y="550.0" width="2.7" height="32.0" fill="#089981"/>
<rect x="202.35" y="546.0" width="2.7" height="29.0" fill="#F23645"/>
<rect x="206.56" y="514.0" width="2.7" height="67.0" fill="#089981"/>
<rect x="210.77" y="527.0" width="2.7" height="46.0" fill="#089981"/>
<rect x="214.98" y="535.0" width="2.7" height="35.0" fill="#F23645"/>
<rect x="219.19" y="551.0" width="2.7" height="44.0" fill="#F23645"/>
<rect x="223.40" y="547.0" width="2.7" height="28.0" fill="#F23645"/>
<rect x="227.61" y="561.0" width="2.7" height="15.0" fill="#F23645"/>
<rect x="231.82" y="523.5" width="2.7" height="47.5" fill="#089981"/>
<rect x="236.03" y="517.0" width="2.7" height="78.0" fill="#F23645"/>
<rect x="240.24" y="521.0" width="2.7" height="43.0" fill="#089981"/>
<rect x="244.45" y="480.0" width="2.7" height="68.0" fill="#089981"/>
<rect x="248.66" y="455.0" width="2.7" height="52.0" fill="#089981"/>
<rect x="252.87" y="461.0" width="2.7" height="89.0" fill="#F23645"/>
<rect x="257.08" y="510.0" width="2.7" height="40.0" fill="#089981"/>
<rect x="261.29" y="510.0" width="2.7" height="41.0" fill="#089981"/>
<rect x="265.50" y="492.0" width="2.7" height="26.0" fill="#089981"/>
<rect x="269.70" y="476.0" width="2.7" height="66.5" fill="#089981"/>
<rect x="273.91" y="491.0" width="2.7" height="31.5" fill="#F23645"/>
<rect x="278.12" y="488.0" width="2.7" height="69.0" fill="#F23645"/>
<rect x="282.33" y="541.5" width="2.7" height="41.5" fill="#F23645"/>
<rect x="286.54" y="560.5" width="2.7" height="30.1" fill="#089981"/>
<rect x="290.75" y="549.0" width="2.7" height="30.0" fill="#089981"/>
<rect x="294.96" y="553.6" width="2.7" height="41.4" fill="#F23645"/>
<rect x="299.17" y="535.5" width="2.7" height="40.5" fill="#089981"/>
<rect x="303.38" y="543.0" width="2.7" height="40.0" fill="#F23645"/>
<rect x="307.59" y="554.5" width="2.7" height="82.5" fill="#F23645"/>
<rect x="311.80" y="546.7" width="2.7" height="78.3" fill="#089981"/>
<rect x="316.01" y="541.5" width="2.7" height="30.2" fill="#089981"/>
<rect x="320.22" y="534.0" width="2.7" height="23.0" fill="#089981"/>
<rect x="324.43" y="478.0" width="2.7" height="75.0" fill="#089981"/>
<rect x="328.64" y="474.0" width="2.7" height="28.0" fill="#089981"/>
<rect x="332.85" y="471.0" width="2.7" height="39.6" fill="#F23645"/>
<rect x="337.06" y="499.0" width="2.7" height="61.5" fill="#F23645"/>
<rect x="341.27" y="543.0" width="2.7" height="62.0" fill="#089981"/>
<rect x="345.48" y="548.4" width="2.7" height="24.1" fill="#F23645"/>
<rect x="349.69" y="546.0" width="2.7" height="22.0" fill="#089981"/>
<rect x="353.90" y="497.0" width="2.7" height="62.6" fill="#089981"/>
<rect x="358.11" y="509.7" width="2.7" height="63.7" fill="#F23645"/>
<rect x="362.32" y="542.4" width="2.7" height="31.6" fill="#F23645"/>
<rect x="366.53" y="543.0" width="2.7" height="17.5" fill="#F23645"/>
<rect x="370.74" y="523.5" width="2.7" height="57.5" fill="#F23645"/>
<rect x="374.95" y="552.7" width="2.7" height="48.3" fill="#F23645"/>
<rect x="379.16" y="561.0" width="2.7" height="82.0" fill="#F23645"/>
<rect x="383.37" y="528.0" width="2.7" height="90.0" fill="#089981"/>
<rect x="387.58" y="535.0" width="2.7" height="19.0" fill="#089981"/>
<rect x="391.79" y="497.5" width="2.7" height="41.3" fill="#089981"/>
<rect x="396.00" y="503.5" width="2.7" height="29.2" fill="#F23645"/>
<rect x="400.21" y="514.7" width="2.7" height="18.0" fill="#089981"/>
<rect x="404.42" y="513.8" width="2.7" height="12.1" fill="#089981"/>
<rect x="408.63" y="502.6" width="2.7" height="19.8" fill="#089981"/>
<rect x="412.84" y="500.0" width="2.7" height="31.0" fill="#F23645"/>
<rect x="417.05" y="525.8" width="2.7" height="37.1" fill="#F23645"/>
<rect x="421.26" y="497.5" width="2.7" height="66.2" fill="#089981"/>
<rect x="425.47" y="471.6" width="2.7" height="42.2" fill="#089981"/>
<rect x="429.68" y="485.4" width="2.7" height="34.4" fill="#F23645"/>
<rect x="433.89" y="503.5" width="2.7" height="7.7" fill="#089981"/>
<rect x="438.10" y="486.3" width="2.7" height="25.7" fill="#089981"/>
<rect x="442.31" y="482.8" width="2.7" height="19.8" fill="#089981"/>
<rect x="446.52" y="469.0" width="2.7" height="30.0" fill="#089981"/>
<rect x="450.73" y="435.5" width="2.7" height="44.5" fill="#089981"/>
<rect x="454.94" y="364.0" width="2.7" height="90.0" fill="#089981"/>
<rect x="459.15" y="314.7" width="2.7" height="76.0" fill="#089981"/>
<rect x="463.36" y="323.0" width="2.7" height="16.0" fill="#089981"/>
<rect x="467.57" y="305.0" width="2.7" height="30.8" fill="#089981"/>
<rect x="471.78" y="244.5" width="2.7" height="69.1" fill="#089981"/>
<rect x="475.99" y="288.0" width="2.7" height="59.4" fill="#F23645"/>
<rect x="480.19" y="281.0" width="2.7" height="36.8" fill="#089981"/>
<rect x="484.40" y="263.0" width="2.7" height="49.5" fill="#089981"/>
<rect x="488.61" y="259.7" width="2.7" height="63.3" fill="#F23645"/>
<rect x="492.82" y="293.5" width="2.7" height="16.9" fill="#F23645"/>
<rect x="497.03" y="289.3" width="2.7" height="39.1" fill="#F23645"/>
<rect x="501.24" y="287.2" width="2.7" height="53.8" fill="#F23645"/>
<rect x="505.45" y="295.6" width="2.7" height="48.4" fill="#089981"/>
<rect x="509.66" y="298.8" width="2.7" height="42.2" fill="#F23645"/>
<rect x="513.87" y="305.0" width="2.7" height="42.4" fill="#089981"/>
<rect x="518.08" y="317.8" width="2.7" height="52.8" fill="#F23645"/>
<rect x="522.29" y="314.7" width="2.7" height="16.9" fill="#089981"/>
<rect x="526.50" y="291.4" width="2.7" height="30.6" fill="#089981"/>
<rect x="530.71" y="287.2" width="2.7" height="26.4" fill="#F23645"/>
<rect x="534.92" y="285.0" width="2.7" height="36.0" fill="#F23645"/>
<rect x="539.13" y="290.4" width="2.7" height="38.0" fill="#089981"/>
<rect x="543.34" y="269.0" width="2.7" height="46.7" fill="#F23645"/>
<rect x="547.55" y="308.3" width="2.7" height="95.9" fill="#F23645"/>
<rect x="551.76" y="379.0" width="2.7" height="34.6" fill="#F23645"/>
<rect x="555.97" y="370.6" width="2.7" height="41.4" fill="#089981"/>
<rect x="560.18" y="361.0" width="2.7" height="23.4" fill="#089981"/>
<rect x="564.39" y="362.9" width="2.7" height="43.8" fill="#F23645"/>
<rect x="568.60" y="361.0" width="2.7" height="32.0" fill="#089981"/>
<rect x="572.81" y="332.7" width="2.7" height="45.6" fill="#089981"/>
<rect x="577.02" y="327.6" width="2.7" height="20.6" fill="#F23645"/>
<rect x="581.23" y="320.7" width="2.7" height="21.5" fill="#F23645"/>
<rect x="585.44" y="298.3" width="2.7" height="42.2" fill="#089981"/>
<rect x="589.65" y="257.0" width="2.7" height="50.8" fill="#F23645"/>
<rect x="593.86" y="280.2" width="2.7" height="23.3" fill="#089981"/>
<rect x="598.07" y="236.4" width="2.7" height="62.8" fill="#089981"/>
<rect x="602.28" y="231.0" width="2.7" height="94.0" fill="#F23645"/>
<rect x="606.49" y="301.0" width="2.7" height="41.2" fill="#F23645"/>
<rect x="610.70" y="321.5" width="2.7" height="10.4" fill="#F23645"/>
<rect x="614.91" y="312.0" width="2.7" height="20.7" fill="#089981"/>
<rect x="619.12" y="325.0" width="2.7" height="46.5" fill="#F23645"/>
<rect x="623.33" y="336.2" width="2.7" height="65.4" fill="#F23645"/>
<rect x="627.54" y="374.0" width="2.7" height="34.5" fill="#089981"/>
<rect x="631.75" y="369.7" width="2.7" height="32.7" fill="#F23645"/>
<rect x="635.96" y="339.6" width="2.7" height="63.7" fill="#089981"/>
<rect x="640.17" y="344.0" width="2.7" height="37.8" fill="#F23645"/>
<rect x="644.38" y="364.5" width="2.7" height="68.0" fill="#F23645"/>
<rect x="648.59" y="388.6" width="2.7" height="64.4" fill="#F23645"/>
<rect x="652.80" y="408.4" width="2.7" height="60.3" fill="#089981"/>
<rect x="657.01" y="399.0" width="2.7" height="33.5" fill="#F23645"/>
<rect x="661.22" y="393.0" width="2.7" height="37.8" fill="#089981"/>
<rect x="665.43" y="411.0" width="2.7" height="77.5" fill="#F23645"/>
<rect x="669.64" y="465.0" width="2.7" height="24.3" fill="#089981"/>
<rect x="673.85" y="457.5" width="2.7" height="19.8" fill="#F23645"/>
<rect x="678.06" y="451.5" width="2.7" height="40.5" fill="#089981"/>
<rect x="682.27" y="411.9" width="2.7" height="52.5" fill="#089981"/>
<rect x="686.48" y="399.0" width="2.7" height="24.0" fill="#089981"/>
<rect x="690.68" y="405.0" width="2.7" height="36.0" fill="#F23645"/>
<rect x="694.89" y="389.5" width="2.7" height="56.8" fill="#F23645"/>
<rect x="699.10" y="424.8" width="2.7" height="20.6" fill="#F23645"/>
<rect x="703.31" y="410.0" width="2.7" height="32.9" fill="#089981"/>
<rect x="707.52" y="399.0" width="2.7" height="27.5" fill="#089981"/>
<rect x="711.73" y="398.0" width="2.7" height="38.0" fill="#F23645"/>
<rect x="715.94" y="378.3" width="2.7" height="51.7" fill="#089981"/>
<rect x="720.15" y="360.2" width="2.7" height="32.8" fill="#089981"/>
<rect x="724.36" y="338.7" width="2.7" height="25.8" fill="#089981"/>
<rect x="728.57" y="344.0" width="2.7" height="18.8" fill="#F23645"/>
<rect x="732.78" y="346.5" width="2.7" height="14.5" fill="#F23645"/>
<rect x="736.99" y="339.0" width="2.7" height="39.6" fill="#F23645"/>
<rect x="741.20" y="348.5" width="2.7" height="29.3" fill="#089981"/>
<rect x="745.41" y="341.6" width="2.7" height="42.2" fill="#089981"/>
<rect x="749.62" y="315.0" width="2.7" height="41.3" fill="#089981"/>
<rect x="753.83" y="320.0" width="2.7" height="38.0" fill="#F23645"/>
<rect x="758.04" y="341.6" width="2.7" height="10.4" fill="#089981"/>
<rect x="762.25" y="346.0" width="2.7" height="11.0" fill="#F23645"/>
<rect x="766.46" y="352.0" width="2.7" height="56.8" fill="#F23645"/>
<rect x="770.67" y="389.8" width="2.7" height="28.4" fill="#F23645"/>
<rect x="774.88" y="366.6" width="2.7" height="55.1" fill="#089981"/>
<rect x="779.09" y="374.3" width="2.7" height="63.7" fill="#F23645"/>
<rect x="783.30" y="414.8" width="2.7" height="23.2" fill="#089981"/>
<rect x="787.51" y="422.5" width="2.7" height="11.2" fill="#F23645"/>
<rect x="791.72" y="383.8" width="2.7" height="47.2" fill="#089981"/>
<rect x="795.93" y="360.6" width="2.7" height="43.9" fill="#089981"/>
<rect x="800.14" y="353.7" width="2.7" height="43.9" fill="#F23645"/>
<rect x="804.35" y="315.0" width="2.7" height="64.5" fill="#089981"/>
<rect x="808.56" y="279.0" width="2.7" height="39.8" fill="#089981"/>
<rect x="812.77" y="228.4" width="2.7" height="69.6" fill="#089981"/>
<rect x="816.98" y="243.0" width="2.7" height="20.7" fill="#089981"/>
<rect x="821.19" y="204.3" width="2.7" height="49.9" fill="#089981"/>
<rect x="825.40" y="157.0" width="2.7" height="53.4" fill="#089981"/>
<rect x="829.61" y="162.0" width="2.7" height="63.9" fill="#F23645"/>
<rect x="833.82" y="152.7" width="2.7" height="54.3" fill="#089981"/>
<rect x="838.03" y="158.7" width="2.7" height="61.1" fill="#F23645"/>
<rect x="842.24" y="180.0" width="2.7" height="280.0" fill="#F23645"/>
<rect x="846.45" y="339.0" width="2.7" height="54.0" fill="#F23645"/>
<rect x="850.66" y="293.4" width="2.7" height="101.6" fill="#089981"/>
<rect x="854.87" y="291.3" width="2.7" height="39.7" fill="#089981"/>
<rect x="859.08" y="294.4" width="2.7" height="97.6" fill="#F23645"/>
<rect x="863.29" y="342.0" width="2.7" height="55.0" fill="#F23645"/>
<rect x="867.50" y="367.6" width="2.7" height="81.4" fill="#F23645"/>
<rect x="871.71" y="423.5" width="2.7" height="95.5" fill="#F23645"/>
<rect x="875.92" y="444.8" width="2.7" height="17.2" fill="#089981"/>
<rect x="880.13" y="413.3" width="2.7" height="55.7" fill="#089981"/>
<rect x="884.34" y="377.7" width="2.7" height="69.1" fill="#089981"/>
<rect x="888.55" y="329.0" width="2.7" height="112.7" fill="#F23645"/>
<rect x="892.76" y="406.0" width="2.7" height="38.8" fill="#F23645"/>
<rect x="896.97" y="364.5" width="2.7" height="67.1" fill="#089981"/>
<rect x="901.17" y="351.3" width="2.7" height="35.6" fill="#089981"/>
<rect x="905.38" y="350.3" width="2.7" height="19.3" fill="#089981"/>
<rect x="909.59" y="301.5" width="2.7" height="57.9" fill="#089981"/>
<rect x="913.80" y="277.0" width="2.7" height="45.8" fill="#F23645"/>
<rect x="918.01" y="290.3" width="2.7" height="63.0" fill="#F23645"/>
<rect x="922.22" y="330.0" width="2.7" height="60.0" fill="#F23645"/>
<rect x="926.43" y="345.2" width="2.7" height="81.3" fill="#F23645"/>
<rect x="930.64" y="352.3" width="2.7" height="45.7" fill="#089981"/>
<rect x="934.85" y="359.7" width="2.7" height="17.3" fill="#089981"/>
<rect x="939.06" y="351.8" width="2.7" height="23.9" fill="#089981"/>
<rect x="943.27" y="354.4" width="2.7" height="89.1" fill="#F23645"/>
<rect x="947.48" y="409.0" width="2.7" height="146.0" fill="#F23645"/>
<rect x="951.69" y="455.5" width="2.7" height="103.5" fill="#089981"/>
<rect x="955.90" y="462.0" width="2.7" height="74.6" fill="#F23645"/>
<rect x="960.11" y="472.8" width="2.7" height="81.2" fill="#089981"/>
<rect x="964.32" y="486.0" width="2.7" height="29.0" fill="#F23645"/>
<rect x="968.53" y="446.0" width="2.7" height="69.0" fill="#089981"/>
<rect x="972.74" y="422.0" width="2.7" height="42.8" fill="#089981"/>
<rect x="976.95" y="403.6" width="2.7" height="87.8" fill="#F23645"/>
<rect x="981.16" y="427.6" width="2.7" height="83.7" fill="#F23645"/>
<rect x="985.37" y="455.5" width="2.7" height="105.0" fill="#F23645"/>
<rect x="989.58" y="528.6" width="2.7" height="63.9" fill="#F23645"/>
<line x1="27.05" y1="574.2" x2="1035" y2="574.2" stroke="#F23645" stroke-width="2" stroke-dasharray="2 6.03"/>
</g>
<rect x="35" y="28" width="565" height="72" fill="#fff" fill-opacity="0.5"/>
<rect x="35" y="147" width="251" height="70" fill="#fff" fill-opacity="0.55"/>
<rect x="35" y="224" width="218" height="66" fill="#fff" fill-opacity="0.55"/>
<!-- price axis -->
<g clip-path="url(#axisclip)" font-family='"Liberation Sans", "Noto Sans CJK JP", sans-serif' font-size="33.5" fill="#131722">
<text x="1056.20" y="54.52" font-family='"Liberation Sans", "Noto Sans CJK JP", sans-serif' font-size="32.50" font-weight="400" fill="#111111" textLength="178.20" lengthAdjust="spacingAndGlyphs">20,000,000</text>
<text x="1055.20" y="160.49" font-family='"Liberation Sans", "Noto Sans CJK JP", sans-serif' font-size="32.50" font-weight="400" fill="#111111" textLength="179.20" lengthAdjust="spacingAndGlyphs">19,000,000</text>
<text x="1055.20" y="267.47" font-family='"Liberation Sans", "Noto Sans CJK JP", sans-serif' font-size="32.50" font-weight="400" fill="#111111" textLength="179.20" lengthAdjust="spacingAndGlyphs">18,000,000</text>
<text x="1055.20" y="373.45" font-family='"Liberation Sans", "Noto Sans CJK JP", sans-serif' font-size="32.50" font-weight="400" fill="#111111" textLength="179.20" lengthAdjust="spacingAndGlyphs">17,000,000</text>
<text x="1055.20" y="480.42" font-family='"Liberation Sans", "Noto Sans CJK JP", sans-serif' font-size="32.50" font-weight="400" fill="#111111" textLength="179.20" lengthAdjust="spacingAndGlyphs">16,000,000</text>
<text x="1055.20" y="693.37" font-family='"Liberation Sans", "Noto Sans CJK JP", sans-serif' font-size="32.50" font-weight="400" fill="#111111" textLength="179.20" lengthAdjust="spacingAndGlyphs">14,000,000</text>
<text x="1055.20" y="799.35" font-family='"Liberation Sans", "Noto Sans CJK JP", sans-serif' font-size="32.50" font-weight="400" fill="#111111" textLength="179.20" lengthAdjust="spacingAndGlyphs">13,000,000</text>
<text x="1055.20" y="906.32" font-family='"Liberation Sans", "Noto Sans CJK JP", sans-serif' font-size="32.50" font-weight="400" fill="#111111" textLength="179.20" lengthAdjust="spacingAndGlyphs">12,000,000</text>
<text x="1055.20" y="1012.29" font-family='"Liberation Sans", "Noto Sans CJK JP", sans-serif' font-size="32.50" font-weight="400" fill="#111111" textLength="179.20" lengthAdjust="spacingAndGlyphs">11,000,000</text>
<text x="1055.20" y="1119.27" font-family='"Liberation Sans", "Noto Sans CJK JP", sans-serif' font-size="32.50" font-weight="400" fill="#111111" textLength="179.20" lengthAdjust="spacingAndGlyphs">10,000,000</text>
</g>
<!-- price labels -->
<g font-family='"Liberation Sans", "Noto Sans CJK JP", sans-serif' font-size="33.5" fill="#fff">
<path d="M1035 264 H1244 a5 5 0 0 1 5 5 V304.5 a5 5 0 0 1 -5 5 H1035 Z" fill="#168481"/>
<text x="1055.60" y="296.70" font-family='"Liberation Sans", "Noto Sans CJK JP", sans-serif' font-size="32.40" font-weight="400" fill="#ffffff" textLength="179.20" lengthAdjust="spacingAndGlyphs">17,727,931</text>
<path d="M1035 414.4 H1244 a5 5 0 0 1 5 5 V454.7 a5 5 0 0 1 -5 5 H1035 Z" fill="#83202a"/>
<text x="1055.60" y="447.10" font-family='"Liberation Sans", "Noto Sans CJK JP", sans-serif' font-size="32.40" font-weight="400" fill="#ffffff" textLength="178.20" lengthAdjust="spacingAndGlyphs">16,317,956</text>
<path d="M1035 551.6 H1244 a5 5 0 0 1 5 5 V592.2 a5 5 0 0 1 -5 5 H1035 Z" fill="#F23645"/>
<text x="1055.60" y="584.30" font-family='"Liberation Sans", "Noto Sans CJK JP", sans-serif' font-size="32.40" font-weight="400" fill="#ffffff" textLength="178.20" lengthAdjust="spacingAndGlyphs">15,029,933</text>
<path d="M1035 597.2 H1244 a5 5 0 0 1 5 5 V637.8 a5 5 0 0 1 -5 5 H1035 Z" fill="#168481"/>
<text x="1055.60" y="629.90" font-family='"Liberation Sans", "Noto Sans CJK JP", sans-serif' font-size="32.40" font-weight="400" fill="#ffffff" textLength="179.20" lengthAdjust="spacingAndGlyphs">14,907,981</text>
<path d="M1035 1006.5 H1124 a5 5 0 0 1 5 5 V1046 a5 5 0 0 1 -5 5 H1035 Z" fill="#ef5360"/>
<text x="1054.00" y="1040.88" font-family='"Liberation Sans", "Noto Sans CJK JP", sans-serif' font-size="32.10" font-weight="400" fill="#ffffff" textLength="59.30" lengthAdjust="spacingAndGlyphs">765</text>
</g>
<!-- TradingView badge -->
<rect x="60.7" y="984.9" width="342.7" height="87.7" rx="43.85" fill="#fff" stroke="#e8e8e8" stroke-width="2.8"/>
<g fill="#131313">
<path d="M76.1 1015.7 H99.9 V1044.8 H89.5 V1026.2 H76.1 Z"/>
<circle cx="108.3" cy="1020.9" r="5.2"/>
<path d="M118.9 1015.7 H133.4 L122 1044.8 H108.6 Z"/>
</g>
<text x="146.50" y="1046.00" font-family='"Liberation Sans", "Noto Sans CJK JP", sans-serif' font-size="40.50" font-weight="700" fill="#131313" textLength="238.40" lengthAdjust="spacingAndGlyphs">TradingView</text>
<!-- header icons -->
<circle cx="82.2" cy="55" r="15" fill="#eceef4"/>
<circle cx="81.4" cy="55" r="7" fill="#f2475b"/>
<circle cx="65.1" cy="72.1" r="19.3" fill="#fff"/>
<circle cx="65.1" cy="72.1" r="16.2" fill="#f7931a"/>
<g transform="rotate(14 65.1 72.1)" fill="#fff">
<text x="65.3" y="78.6" text-anchor="middle" font-family='"Liberation Sans", "Noto Sans CJK JP", sans-serif' font-weight="bold" font-size="18">B</text>
<rect x="61.6" y="62" width="1.7" height="3.6"/><rect x="65.2" y="62" width="1.7" height="3.6"/>
<rect x="61.6" y="78.4" width="1.7" height="3.6"/><rect x="65.2" y="78.4" width="1.7" height="3.6"/>
</g>
<circle cx="561" cy="64" r="29" fill="#dcefec"/>
<circle cx="561" cy="64" r="13.5" fill="#0b8f79"/>
<!-- collapse button -->
<rect x="48.1" y="299.3" width="82.5" height="66.7" rx="7" fill="#fff" stroke="#dcdcdc" stroke-width="2.5"/>
<path d="M76 338.3 L89.5 325.6 L102.8 338.3" fill="none" stroke="#111111" stroke-width="3.6" stroke-linecap="round" stroke-linejoin="miter"/>
<!-- settings icon -->
<path d="M1130.5 1153.5 L1139 1137.6 H1159.1 L1167.6 1153.5 L1159.1 1169.3 H1139 Z" fill="none" stroke="#111111" stroke-width="2.5" stroke-linejoin="miter"/>
<circle cx="1149" cy="1153.5" r="5.6" fill="none" stroke="#111111" stroke-width="2.3"/>
<!-- bottom toolbar -->
<line x1="25" y1="1191.8" x2="1264" y2="1191.8" stroke="#e3e4e6" stroke-width="2.2"/>
<line x1="1263.8" y1="1192" x2="1263.8" y2="1278" stroke="#f0f0f0" stroke-width="1"/>
<path d="M224.5 1240.3 L234.6 1248.4 L244.6 1240.3" fill="none" stroke="#111111" stroke-width="2.3" stroke-linecap="round"/>
<text x="107.50" y="78.50" font-family='"Liberation Sans", "Noto Sans CJK JP", sans-serif' font-size="38.97" font-weight="400" fill="#111111" textLength="402.50" lengthAdjust="spacingAndGlyphs">ビットコイン／日本円</text>
<text x="48.60" y="135.48" font-family='"Liberation Sans", "Noto Sans CJK JP", sans-serif' font-size="32.10" font-weight="400" fill="#F23645" textLength="193.10" lengthAdjust="spacingAndGlyphs">15,029,933</text>
<text x="256.90" y="135.48" font-family='"Liberation Sans", "Noto Sans CJK JP", sans-serif' font-size="32.10" font-weight="400" fill="#F23645" textLength="161.10" lengthAdjust="spacingAndGlyphs">−403,454</text>
<text x="430.00" y="133.88" font-family='"Liberation Sans", "Noto Sans CJK JP", sans-serif' font-size="32.10" font-weight="400" fill="#F23645" textLength="151.80" lengthAdjust="spacingAndGlyphs">(−2.61%)</text>
<text x="49.00" y="197.58" font-family='"Liberation Sans", "Noto Sans CJK JP", sans-serif' font-size="31.40" font-weight="400" fill="#111111" textLength="45.70" lengthAdjust="spacingAndGlyphs">BB</text>
<text x="103.50" y="198.08" font-family='"Liberation Sans", "Noto Sans CJK JP", sans-serif' font-size="31.40" font-weight="400" fill="#666666" textLength="172.00" lengthAdjust="spacingAndGlyphs">20 close 2</text>
<text x="48.60" y="265.92" font-family='"Liberation Sans", "Noto Sans CJK JP", sans-serif' font-size="29.90" font-weight="400" fill="#111111" textLength="98.10" lengthAdjust="spacingAndGlyphs">出来高</text>
<text x="155.00" y="265.55" font-family='"Liberation Sans", "Noto Sans CJK JP", sans-serif' font-size="31.50" font-weight="400" fill="#111111" textLength="12.00" lengthAdjust="spacingAndGlyphs">·</text>
<text x="174.60" y="265.40" font-family='"Liberation Sans", "Noto Sans CJK JP", sans-serif' font-size="31.70" font-weight="400" fill="#111111" textLength="67.90" lengthAdjust="spacingAndGlyphs">BTC</text>
<text x="136.20" y="1164.55" font-family='"Liberation Sans", "Noto Sans CJK JP", sans-serif' font-size="31.50" font-weight="700" fill="#111111" textLength="18.60" lengthAdjust="spacingAndGlyphs">5</text>
<text x="156.60" y="1164.36" font-family='"Liberation Sans", "Noto Sans CJK JP", sans-serif' font-size="28.70" font-weight="700" fill="#111111" textLength="29.60" lengthAdjust="spacingAndGlyphs">月</text>
<text x="392.40" y="1164.55" font-family='"Liberation Sans", "Noto Sans CJK JP", sans-serif' font-size="31.50" font-weight="700" fill="#111111" textLength="20.10" lengthAdjust="spacingAndGlyphs">7</text>
<text x="414.60" y="1164.36" font-family='"Liberation Sans", "Noto Sans CJK JP", sans-serif' font-size="28.70" font-weight="700" fill="#111111" textLength="29.60" lengthAdjust="spacingAndGlyphs">月</text>
<text x="653.90" y="1163.95" font-family='"Liberation Sans", "Noto Sans CJK JP", sans-serif' font-size="31.50" font-weight="700" fill="#111111" textLength="19.30" lengthAdjust="spacingAndGlyphs">9</text>
<text x="675.30" y="1164.16" font-family='"Liberation Sans", "Noto Sans CJK JP", sans-serif' font-size="28.79" font-weight="700" fill="#111111" textLength="29.70" lengthAdjust="spacingAndGlyphs">月</text>
<text x="900.90" y="1164.45" font-family='"Liberation Sans", "Noto Sans CJK JP", sans-serif' font-size="31.50" font-weight="700" fill="#111111" textLength="35.10" lengthAdjust="spacingAndGlyphs">11</text>
<text x="943.10" y="1165.16" font-family='"Liberation Sans", "Noto Sans CJK JP", sans-serif' font-size="29.23" font-weight="700" fill="#111111" textLength="29.70" lengthAdjust="spacingAndGlyphs">月</text>
<text x="61.20" y="1257.30" font-family='"Liberation Sans", "Noto Sans CJK JP", sans-serif' font-size="34.01" font-weight="400" fill="#111111" textLength="143.10" lengthAdjust="spacingAndGlyphs">日付範囲</text>
<text x="988.80" y="1258.22" font-family='"Liberation Sans", "Noto Sans CJK JP", sans-serif' font-size="38.30" font-weight="400" fill="#111111" textLength="248.50" lengthAdjust="spacingAndGlyphs">08:17:36 UTC</text>
</svg>
</body></html>
